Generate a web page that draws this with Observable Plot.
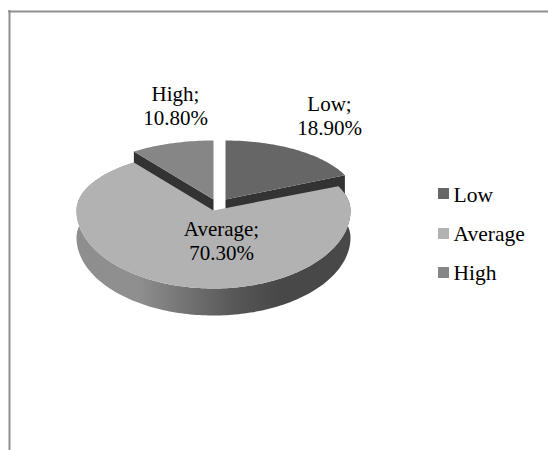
<!DOCTYPE html>
<html>
<head>
<meta charset="utf-8">
<style>
  html, body { margin: 0; padding: 0; background: #fff; }
  svg { display: block; }
</style>
<script src="https://cdn.jsdelivr.net/npm/d3@7"></script>
<script src="https://cdn.jsdelivr.net/npm/@observablehq/plot@0.6"></script>
</head>
<body>
<div id="chart"></div>
<script>
// Shares of respondents per level
const categories = ["Low", "Average", "High"];
const shares = [18.9, 70.3, 10.8];
const topShades = ["#666666", "#b2b2b2", "#868686"];
const wallShade = "#333333";

// Tilted disc: half-widths, back and front half-heights, angle warp and thickness
const halfWidths = {Low: 131, Average: 137, High: 137};
const backDepth = 59, frontDepth = 78, warp = 0.06, thickness = 27;
// Where each slice's tip sits once the pie is pulled apart
const tips = {Low: [225, 199], Average: [213, 210], High: [213, 199]};
const labelAt = {Low: [329, 115], Average: [221, 240], High: [175, 105]};
const legendTop = [188, 228, 267];
const legendMiddle = [195, 234, 273];

function project(theta, tip, halfWidth, drop = 0) {
  const phi = theta - warp * Math.sin(2 * theta);
  const c = Math.cos(phi);
  return {
    x: tip[0] + halfWidth * Math.sin(phi),
    y: tip[1] - (c > 0 ? backDepth : frontDepth) * c + drop
  };
}
function arc(a0, a1, s, drop = 0) {
  const n = Math.max(2, Math.ceil(Math.abs(a1 - a0) * 40));
  return d3.range(n + 1).map(i => project(a0 + (a1 - a0) * i / n, s.tip, s.halfWidth, drop));
}

// Slice angles, clockwise from twelve o'clock
const total = d3.sum(shares);
let running = 0;
const slices = categories.map((name, i) => {
  const a0 = running / total * 2 * Math.PI;
  running += shares[i];
  return {
    name, share: shares[i], shade: topShades[i], a0, a1: running / total * 2 * Math.PI,
    tip: tips[name], halfWidth: halfWidths[name]
  };
});
const [low, average, high] = slices;

const tipPoint = (s, drop = 0) => ({x: s.tip[0], y: s.tip[1] + drop});
const surface = s => [tipPoint(s), ...arc(s.a0, s.a1, s), tipPoint(s)];
const cutWall = (s, angle) => [
  tipPoint(s),
  project(angle, s.tip, s.halfWidth),
  project(angle, s.tip, s.halfWidth, thickness),
  tipPoint(s, thickness),
  tipPoint(s)
];
const rim = s => [...arc(s.a0, s.a1, s), ...arc(s.a1, s.a0, s, thickness)];

const shape = (points, fill) => Plot.line(points, {x: "x", y: "y", fill, stroke: "none", curve: "linear"});

// Horizontal shading along the front of the large slice
const rimGradient = () => {
  const svgNS = "http://www.w3.org/2000/svg";
  const defs = document.createElementNS(svgNS, "defs");
  const g = document.createElementNS(svgNS, "linearGradient");
  g.setAttribute("id", "rim-shade");
  g.setAttribute("gradientUnits", "userSpaceOnUse");
  g.setAttribute("x1", 77); g.setAttribute("x2", 352);
  g.setAttribute("y1", 0); g.setAttribute("y2", 0);
  [[0, "#8e8e8e"], [0.22, "#8f8f8f"], [0.4, "#727272"], [0.58, "#565656"], [0.73, "#484848"], [1, "#484848"]].forEach(([o, c]) => {
    const stop = document.createElementNS(svgNS, "stop");
    stop.setAttribute("offset", o);
    stop.setAttribute("stop-color", c);
    g.appendChild(stop);
  });
  defs.appendChild(g);
  return defs;
};

const serif = "'Liberation Serif', 'Times New Roman', serif";
const labels = slices.map(s => ({
  text: `${s.name};\n${s.share.toFixed(2)}%`,
  x: labelAt[s.name][0],
  y: labelAt[s.name][1]
}));
const legend = slices.map((s, i) => ({name: s.name, shade: s.shade, top: legendTop[i], middle: legendMiddle[i]}));

const chart = Plot.plot({
  width: 548,
  height: 450,
  margin: 0,
  x: {domain: [0, 548], range: [0, 548], axis: null},
  y: {domain: [0, 450], range: [0, 450], axis: null},
  style: {background: "#fff"},
  marks: [
    rimGradient,
    // Chart frame, cut off by the right and bottom edges
    Plot.ruleY([11], {x1: 8, x2: 548, stroke: "#8f8f8f", strokeWidth: 2}),
    Plot.ruleX([9], {y1: 10, y2: 450, stroke: "#8f8f8f", strokeWidth: 2}),
    // Back slices first so the large slice overlaps their walls
    shape(cutWall(high, high.a0), wallShade),
    shape(surface(high), high.shade),
    shape(cutWall(low, low.a1), wallShade),
    shape(surface(low), low.shade),
    shape(rim(average), "url(#rim-shade)"),
    shape(surface(average), average.shade),
    Plot.text(labels, {
      x: "x", y: "y", text: "text", fontSize: 21, fontFamily: serif, lineHeight: 1.15,
      textAnchor: "middle", fill: "#000"
    }),
    Plot.rect(legend, {
      x1: () => 438, x2: () => 449,
      y1: "top", y2: d => d.top + 11,
      fill: "shade", inset: 0
    }),
    Plot.text(legend, {
      x: () => 453, y: "middle", text: "name", fontSize: 21.5, fontFamily: serif,
      textAnchor: "start", fill: "#000"
    })
  ],
  color: {type: "identity"}
});
document.getElementById("chart").appendChild(chart);
</script>
</body>
</html>
